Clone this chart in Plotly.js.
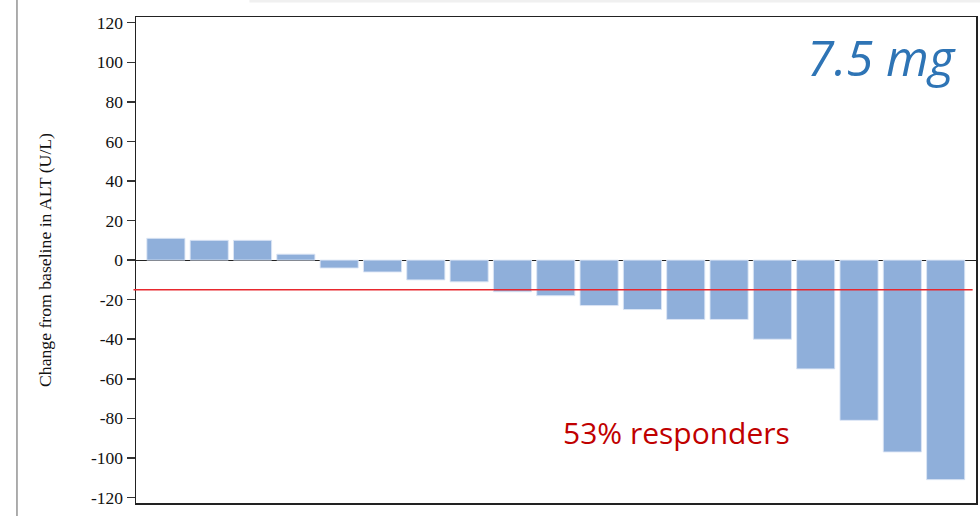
<!DOCTYPE html>
<html>
<head>
<meta charset="utf-8">
<script src="https://cdn.plot.ly/plotly-3.0.1.min.js"></script>
<style>html,body{margin:0;padding:0;background:#fff;}#chart{width:980px;height:516px;}</style>
</head>
<body>
<div id="chart"></div>
<script>
// Patients sorted by change from baseline in ALT (U/L)
const patients = ["P1","P2","P3","P4","P5","P6","P7","P8","P9","P10","P11","P12","P13","P14","P15","P16","P17","P18","P19"];
const altChange = [11, 10, 10, 3, -4, -6, -10, -11, -16, -18, -23, -25, -30, -30, -40, -55, -81, -97, -111];
const responderThreshold = -15;
const yTicks = [-120, -100, -80, -60, -40, -20, 0, 20, 40, 60, 80, 100, 120];
const doseLabel = "7.5 mg";
const responderLabel = "53% responders";

const trace = {
  type: "bar",
  x: patients.map((p, i) => i),
  y: altChange,
  marker: {color: "rgb(143,175,218)", line: {color: "rgba(220,230,245,0.9)", width: 1}},
  hoverinfo: "y",
  showlegend: false
};

const layout = {
  width: 980, height: 516,
  margin: {l: 136, r: 4, t: 17, b: 13},
  paper_bgcolor: "#fff", plot_bgcolor: "#fff",
  bargap: 0.12,
  xaxis: {
    range: [-0.69, 18.70], showticklabels: false, ticks: "", showgrid: false,
    zeroline: false, showline: true, mirror: true, linecolor: "#222", linewidth: 1.5
  },
  yaxis: {
    range: [-122.8, 122.9], tickvals: yTicks, ticktext: yTicks.map(String),
    ticks: "outside", ticklen: 8, tickcolor: "#333", tickwidth: 1.5,
    showgrid: false, zeroline: true, zerolinecolor: "#222", zerolinewidth: 1.2,
    showline: true, mirror: true, linecolor: "#222", linewidth: 1.5,
    tickfont: {family: "Liberation Serif, Times New Roman, serif", size: 17.5, color: "#111"},
    title: {text: "Change from baseline in ALT (U/L)", standoff: 34,
      font: {family: "Liberation Serif, Times New Roman, serif", size: 17.7, color: "#111"}}
  },
  shapes: [
    {type: "line", xref: "paper", yref: "y", x0: -0.003, x1: 0.996, y0: responderThreshold, y1: responderThreshold,
     line: {color: "#e8282e", width: 1.3}},
    {type: "line", xref: "paper", yref: "paper", x0: -0.1417, x1: -0.1417, y0: -0.03, y1: 1.04,
     line: {color: "#777", width: 1.2}},
    {type: "rect", xref: "paper", yref: "paper", x0: 0.135, x1: 1.01, y0: 1.03, y1: 1.04,
     line: {width: 0}, fillcolor: "#f0f0f0"}
  ],
  annotations: [
    {xref: "paper", yref: "paper", x: 0.887, y: 0.918, text: "<i>" + doseLabel + "</i>", showarrow: false,
     font: {family: "Open Sans, sans-serif", size: 49, color: "#2e74b5"}, xanchor: "center", yanchor: "middle"},
    {xref: "paper", yref: "paper", x: 0.644, y: 0.145, text: responderLabel, showarrow: false,
     font: {family: "Open Sans, sans-serif", size: 30, color: "#c00000"}, xanchor: "center", yanchor: "middle"}
  ]
};

Plotly.newPlot("chart", [trace], layout, {staticPlot: true, displayModeBar: false});
</script>
</body>
</html>
